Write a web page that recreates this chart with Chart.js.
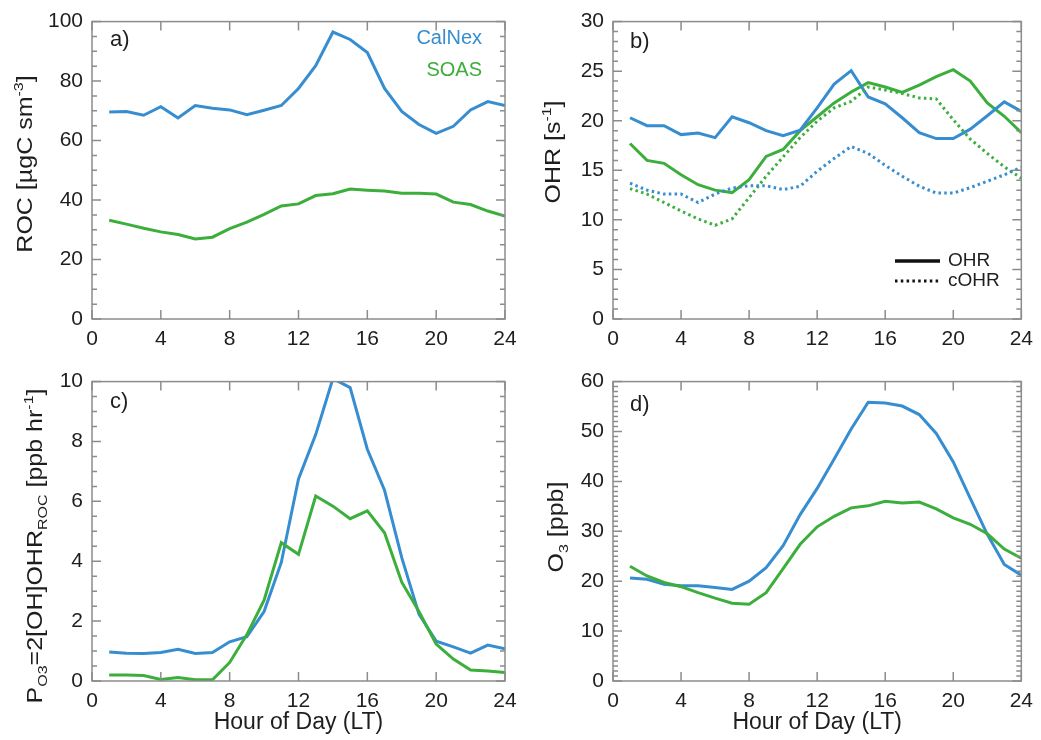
<!DOCTYPE html>
<html>
<head>
<meta charset="utf-8">
<script src="https://cdn.jsdelivr.net/npm/chart.js@4.4.0/dist/chart.umd.min.js"></script>
<style>
  html, body { margin: 0; padding: 0; background: #fff; }
  #wrap { position: relative; width: 1041px; height: 740px; overflow: hidden; }
  canvas { position: absolute; }
</style>
</head>
<body>
<div id="wrap">
  <canvas id="pa" width="525" height="360" style="left:0;top:0"></canvas>
  <canvas id="pb" width="521" height="360" style="left:520px;top:0"></canvas>
  <canvas id="pc" width="525" height="380" style="left:0;top:360px"></canvas>
  <canvas id="pd" width="521" height="380" style="left:520px;top:360px"></canvas>
</div>
<script>
// hour of day (LT)
const hours = [1, 2, 3, 4, 5, 6, 7, 8, 9, 10, 11, 12, 13, 14, 15, 16, 17, 18, 19, 20, 21, 22, 23, 24];
const xTicks = [0, 4, 8, 12, 16, 20, 24];

// a) ROC [ugC sm-3]
const rocCalnex = [69.6, 69.8, 68.5, 71.4, 67.6, 71.8, 70.9, 70.3, 68.7, 70.2, 71.8, 77.5, 85.2, 96.5, 94.0, 89.6, 77.5, 69.8, 65.4, 62.4, 64.8, 70.3, 73.1, 71.8];
const rocSoas = [33.2, 31.9, 30.5, 29.3, 28.4, 26.9, 27.5, 30.4, 32.6, 35.2, 38.0, 38.7, 41.5, 42.1, 43.7, 43.3, 43.0, 42.3, 42.3, 42.0, 39.3, 38.5, 36.3, 34.6];

// b) OHR and calculated OHR [s-1]
const ohrCalnex = [20.3, 19.5, 19.5, 18.6, 18.75, 18.3, 20.4, 19.8, 19.0, 18.5, 19.05, 21.3, 23.7, 25.05, 22.4, 21.7, 20.3, 18.8, 18.2, 18.2, 19.15, 20.5, 21.9, 20.95];
const ohrSoas = [17.7, 16.0, 15.7, 14.55, 13.55, 13.0, 12.75, 14.05, 16.4, 17.1, 19.0, 20.4, 21.8, 22.9, 23.85, 23.4, 22.85, 23.6, 24.45, 25.15, 24.0, 21.8, 20.45, 18.8];
const cohrCalnex = [13.7, 13.0, 12.6, 12.6, 11.75, 12.6, 13.2, 13.45, 13.45, 13.05, 13.4, 14.9, 16.2, 17.4, 16.7, 15.5, 14.4, 13.4, 12.7, 12.7, 13.25, 13.9, 14.55, 15.3];
const cohrSoas = [13.15, 12.6, 11.75, 10.9, 10.1, 9.45, 10.1, 12.25, 14.4, 16.35, 18.3, 19.95, 21.3, 21.95, 23.4, 23.1, 22.75, 22.3, 22.2, 20.1, 18.15, 16.7, 15.35, 14.2];

// c) P_O3 [ppb hr-1]
const po3Calnex = [0.97, 0.93, 0.92, 0.95, 1.06, 0.92, 0.95, 1.31, 1.48, 2.32, 3.96, 6.75, 8.23, 10.1, 9.8, 7.74, 6.37, 4.12, 2.23, 1.33, 1.14, 0.93, 1.2, 1.08];
const po3Soas = [0.2, 0.2, 0.18, 0.05, 0.12, 0.04, 0.04, 0.62, 1.55, 2.7, 4.62, 4.23, 6.18, 5.84, 5.42, 5.68, 4.95, 3.3, 2.32, 1.23, 0.73, 0.37, 0.33, 0.28];

// d) O3 [ppb]
const o3Calnex = [20.65, 20.4, 19.4, 19.1, 19.1, 18.75, 18.35, 20.0, 22.7, 27.1, 33.35, 38.6, 44.5, 50.5, 55.85, 55.7, 55.1, 53.4, 49.6, 43.9, 36.6, 29.4, 23.35, 21.2];
const o3Soas = [23.0, 21.05, 19.75, 18.9, 17.7, 16.6, 15.6, 15.4, 17.7, 22.5, 27.4, 30.9, 33.0, 34.7, 35.1, 36.0, 35.65, 35.85, 34.5, 32.7, 31.4, 29.5, 26.45, 24.6];

const BLUE = "#368dd0";
const GREEN = "#3cae3c";
const INK = "#1e1e1e";
const SANS = '"Liberation Sans", Arial, Helvetica, sans-serif';

const pts = (arr) => hours.map((h, i) => ({ x: h, y: arr[i] }));

// frame with inward ticks on all four sides
const frameTicks = {
  id: "frameTicks",
  afterDatasetsDraw(chart, args, o) {
    const { ctx, chartArea: a, scales: { x, y } } = chart;
    ctx.save();
    ctx.strokeStyle = "#8c8c8c";
    ctx.lineWidth = 1.5;
    ctx.beginPath();
    xTicks.forEach((v) => {
      const px = x.getPixelForValue(v);
      ctx.moveTo(px, a.bottom); ctx.lineTo(px, a.bottom - 9);
      ctx.moveTo(px, a.top); ctx.lineTo(px, a.top + 9);
    });
    const n = Math.round((y.max - y.min) / o.yMinor);
    for (let i = 0; i <= n; i++) {
      const v = y.min + i * o.yMinor;
      const py = y.getPixelForValue(v);
      const r = v / o.yMajor;
      const len = Math.abs(r - Math.round(r)) < 1e-6 ? 9 : 5;
      ctx.moveTo(a.left, py); ctx.lineTo(a.left + len, py);
      ctx.moveTo(a.right, py); ctx.lineTo(a.right - len, py);
    }
    ctx.stroke();
    ctx.strokeRect(a.left, a.top, a.width, a.height);
    ctx.restore();
  }
};

// rotated axis title with sub/superscripts
function drawRotated(ctx, segs, x, cy) {
  const big = 25, small = 16;
  const fontFor = (s) => `${s.sub || s.sup ? small : big}px ${SANS}`;
  let total = 0;
  segs.forEach((s) => { ctx.font = fontFor(s); total += ctx.measureText(s.t).width; });
  ctx.save();
  ctx.translate(x, cy);
  ctx.scale(0.85, 1);
  ctx.rotate(-Math.PI / 2);
  ctx.textAlign = "left";
  ctx.textBaseline = "alphabetic";
  let u = -total / 2;
  segs.forEach((s) => {
    ctx.font = fontFor(s);
    const dy = s.sup ? -0.42 * big : s.sub ? 0.22 * big : 0;
    ctx.fillText(s.t, u, dy);
    u += ctx.measureText(s.t).width;
  });
  ctx.restore();
}

const decor = {
  id: "decor",
  afterDraw(chart, args, o) {
    const ctx = chart.ctx;
    ctx.save();
    ctx.fillStyle = INK;
    ctx.textBaseline = "middle";
    ctx.textAlign = "left";
    ctx.font = `22px ${SANS}`;
    ctx.fillText(o.tag, 110, o.tagY);
    (o.texts || []).forEach((t) => {
      ctx.font = t.font;
      ctx.fillStyle = t.color;
      ctx.textAlign = t.align;
      ctx.fillText(t.text, t.x, t.y);
    });
    (o.keys || []).forEach((k) => {
      ctx.strokeStyle = "#111";
      ctx.lineWidth = k.width;
      ctx.setLineDash(k.dash);
      ctx.beginPath();
      ctx.moveTo(k.x0, k.y); ctx.lineTo(k.x1, k.y);
      ctx.stroke();
    });
    ctx.setLineDash([]);
    ctx.fillStyle = INK;
    drawRotated(ctx, o.yTitle, o.titleX, o.titleY);
    ctx.restore();
  }
};

function makePanel(id, cfg) {
  const canvas = document.getElementById(id);
  return new Chart(canvas, {
    type: "line",
    data: { datasets: cfg.datasets },
    options: {
      responsive: false,
      animation: false,
      layout: { padding: { top: cfg.top, right: canvas.width - cfg.right, left: 0, bottom: 0 } },
      elements: { point: { radius: 0 }, line: { borderWidth: 3, tension: 0 } },
      plugins: {
        legend: { display: false },
        tooltip: { enabled: false },
        frameTicks: { yMajor: cfg.yMajor, yMinor: cfg.yMinor },
        decor: cfg.decor
      },
      scales: {
        x: {
          type: "linear", min: 0, max: 24,
          grid: { display: false, drawTicks: false },
          border: { display: false },
          ticks: { stepSize: 4, padding: 8, color: INK, maxRotation: 0, font: { family: SANS, size: 21 } },
          title: {
            display: !!cfg.xTitle, text: cfg.xTitle || "", color: INK,
            font: { family: SANS, size: 23 }, padding: { top: 0, bottom: 4 }
          },
          afterFit(s) { s.height = canvas.height - cfg.bottom; }
        },
        y: {
          min: cfg.yMin, max: cfg.yMax,
          grid: { display: false, drawTicks: false },
          border: { display: false },
          ticks: { stepSize: cfg.yMajor, padding: 9, color: INK, autoSkip: false, font: { family: SANS, size: 21 } },
          afterFit(s) { s.width = cfg.left; }
        }
      }
    },
    plugins: [frameTicks, decor]
  });
}

const solid = (arr, color) => ({ data: pts(arr), borderColor: color });
const dotted = (arr, color) => ({ data: pts(arr), borderColor: color, borderDash: [2.5, 3.3], borderCapStyle: "butt" });

makePanel("pa", {
  left: 92, right: 505, top: 15, bottom: 319,
  yMin: 0, yMax: 100, yMajor: 20, yMinor: 5,
  datasets: [solid(rocSoas, GREEN), solid(rocCalnex, BLUE)],
  decor: {
    tag: "a)", tagY: 40,
    texts: [
      { text: "CalNex", x: 482, y: 38, color: BLUE, align: "right", font: `20px ${SANS}` },
      { text: "SOAS", x: 482, y: 70, color: GREEN, align: "right", font: `20px ${SANS}` }
    ],
    yTitle: [{ t: "ROC [µgC sm" }, { t: "-3", sup: true }, { t: "]" }],
    titleX: 32, titleY: 164
  }
});

makePanel("pb", {
  left: 93, right: 506, top: 15, bottom: 319,
  yMin: 0, yMax: 30, yMajor: 5, yMinor: 1,
  datasets: [dotted(cohrCalnex, BLUE), dotted(cohrSoas, GREEN), solid(ohrCalnex, BLUE), solid(ohrSoas, GREEN)],
  decor: {
    tag: "b)", tagY: 42,
    texts: [
      { text: "OHR", x: 428, y: 261, color: INK, align: "left", font: `19px ${SANS}` },
      { text: "cOHR", x: 428, y: 281, color: INK, align: "left", font: `19px ${SANS}` }
    ],
    keys: [
      { x0: 375, x1: 420, y: 261, width: 3.5, dash: [] },
      { x0: 375, x1: 420, y: 281, width: 3, dash: [2.5, 3.3] }
    ],
    yTitle: [{ t: "OHR [s" }, { t: "-1", sup: true }, { t: "]" }],
    titleX: 40, titleY: 152
  }
});

makePanel("pc", {
  left: 92, right: 505, top: 16, bottom: 321,
  yMin: 0, yMax: 10, yMajor: 2, yMinor: 0.5,
  xTitle: "Hour of Day (LT)",
  datasets: [solid(po3Soas, GREEN), solid(po3Calnex, BLUE)],
  decor: {
    tag: "c)", tagY: 42,
    yTitle: [
      { t: "P" }, { t: "O3", sub: true }, { t: "=2[OH]OHR" }, { t: "ROC", sub: true },
      { t: " [ppb hr" }, { t: "-1", sup: true }, { t: "]" }
    ],
    titleX: 42, titleY: 186
  }
});

makePanel("pd", {
  left: 93, right: 506, top: 16, bottom: 321,
  yMin: 0, yMax: 60, yMajor: 10, yMinor: 1,
  xTitle: "Hour of Day (LT)",
  datasets: [solid(o3Soas, GREEN), solid(o3Calnex, BLUE)],
  decor: {
    tag: "d)", tagY: 45,
    yTitle: [{ t: "O" }, { t: "3", sub: true }, { t: " [ppb]" }],
    titleX: 43, titleY: 167
  }
});
</script>
</body>
</html>
